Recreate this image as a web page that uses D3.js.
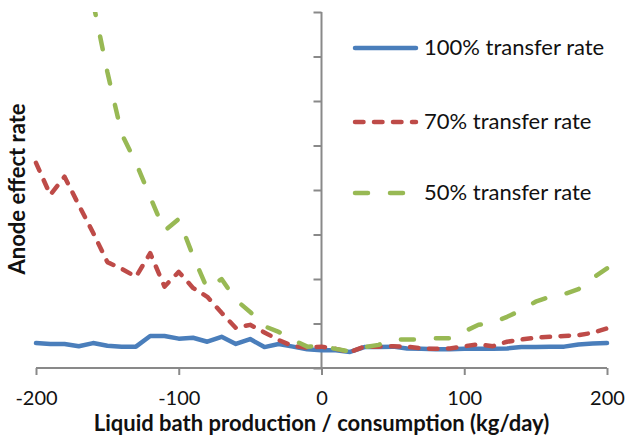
<!DOCTYPE html>
<html>
<head>
<meta charset="utf-8">
<script src="https://cdn.jsdelivr.net/npm/d3@7"></script>
<style>
  html, body { margin: 0; padding: 0; background: #fff; }
  svg { display: block; font-family: Lato, "Open Sans", sans-serif; }
</style>
</head>
<body>
<svg id="chart" width="628" height="436"></svg>
<script>
// ---- data ----
const xValues = d3.range(-200, 201, 10);
const rate100 = [0.56,0.54,0.54,0.49,0.56,0.50,0.48,0.48,0.72,0.72,0.66,0.68,0.59,0.70,0.54,0.65,0.47,0.54,0.48,0.42,
                 0.40,0.40,0.36,0.47,0.47,0.48,0.44,0.43,0.42,0.42,0.43,0.43,0.43,0.44,0.47,0.47,0.48,0.48,0.53,0.55,0.56];
const rate70 = [4.61,3.89,4.30,3.66,3.04,2.38,2.23,2.05,2.58,1.83,2.16,1.80,1.60,1.24,0.90,0.97,0.80,0.63,0.49,0.46,
                0.48,0.43,0.36,0.48,0.48,0.49,0.48,0.44,0.43,0.44,0.49,0.53,0.49,0.59,0.64,0.68,0.70,0.72,0.74,0.79,0.89];
const xValues50 = d3.range(-160, 201, 10);
const rate50 = [8.22,6.65,5.26,4.61,3.84,3.08,3.35,2.52,1.78,2.00,1.53,1.26,0.94,0.81,0.63,0.48,
                0.49,0.43,0.37,0.47,0.52,0.64,0.64,0.64,0.67,0.67,0.82,0.97,1.02,1.15,1.30,1.49,1.60,1.66,1.77,2.02,2.24];
const seriesNames = ["100% transfer rate", "70% transfer rate", "50% transfer rate"];
const xTicks = [-200, -100, 0, 100, 200];
const yTicks = d3.range(0, 9, 1);

const series = [
  { name: seriesNames[0], xs: xValues, ys: rate100, color: "#4A7EBB", dash: null },
  { name: seriesNames[1], xs: xValues, ys: rate70, color: "#BE4B48", dash: "8.5,10.5" },
  { name: seriesNames[2], xs: xValues50, ys: rate50, color: "#98B954", dash: "13,22" }
];

// ---- layout ----
const svg = d3.select("#chart");
const pLeft = 36, pRight = 607, pTop = 12, pBottom = 368;
const x = d3.scaleLinear().domain([-200, 200]).range([pLeft, pRight]);
const y = d3.scaleLinear().domain([0, 8]).range([pBottom, pTop]);
const axisColor = "#898989";

svg.append("defs").append("clipPath").attr("id", "clip")
  .append("rect").attr("x", pLeft - 5).attr("y", pTop).attr("width", pRight - pLeft + 10).attr("height", pBottom - pTop + 5);

// x axis
const xAxis = svg.append("g").attr("transform", `translate(0,${pBottom})`)
  .call(d3.axisBottom(x).tickValues(xTicks).tickSize(7).tickPadding(10).tickFormat(d => String(d)));
xAxis.select(".domain").attr("stroke", axisColor).attr("stroke-width", 2).attr("d", `M${pLeft},0H${pRight}`);
xAxis.selectAll(".tick line").attr("stroke", axisColor).attr("stroke-width", 2);
xAxis.selectAll(".tick text").attr("font-size", 20).attr("fill", "#111").attr("font-family", "Lato")
  .attr("dy", null).attr("y", 37);

// y axis at x = 0
const yAxis = svg.append("g").attr("transform", `translate(${x(0)},0)`)
  .call(d3.axisLeft(y).tickValues(yTicks).tickSize(8).tickFormat(""));
yAxis.select(".domain").attr("stroke", axisColor).attr("stroke-width", 2).attr("d", `M0,${pTop}V${pBottom}`);
yAxis.selectAll(".tick line").attr("stroke", axisColor).attr("stroke-width", 2);

// lines
const plot = svg.append("g").attr("clip-path", "url(#clip)");
series.forEach(s => {
  const pts = s.xs.map((xv, i) => [xv, s.ys[i]]);
  plot.append("path")
    .datum(pts)
    .attr("fill", "none")
    .attr("stroke", s.color)
    .attr("stroke-width", 4.5)
    .attr("stroke-linecap", "round")
    .attr("stroke-linejoin", "round")
    .attr("stroke-dasharray", s.dash)
    .attr("d", d3.line().x(d => x(d[0])).y(d => y(d[1])));
});

// legend
const legendY = [48, 122, 193];
const lg = svg.append("g");
series.forEach((s, i) => {
  lg.append("line")
    .attr("x1", 355).attr("x2", 416).attr("y1", legendY[i]).attr("y2", legendY[i])
    .attr("stroke", s.color).attr("stroke-width", 4.5)
    .attr("stroke-linecap", "round")
    .attr("stroke-dasharray", s.dash);
  lg.append("text")
    .attr("x", 424).attr("y", legendY[i] + 7)
    .attr("font-size", 22).attr("fill", "#111")
    .text(s.name);
});

// axis titles
svg.append("text")
  .attr("x", (pLeft + pRight) / 2).attr("y", 431)
  .attr("text-anchor", "middle")
  .attr("font-size", 22).attr("font-weight", "bold").attr("fill", "#111")
  .text("Liquid bath production / consumption (kg/day)");

svg.append("text")
  .attr("transform", "translate(25,189) rotate(-90)")
  .attr("text-anchor", "middle")
  .attr("font-size", 22).attr("font-weight", "bold").attr("fill", "#111")
  .text("Anode effect rate");
</script>
</body>
</html>
